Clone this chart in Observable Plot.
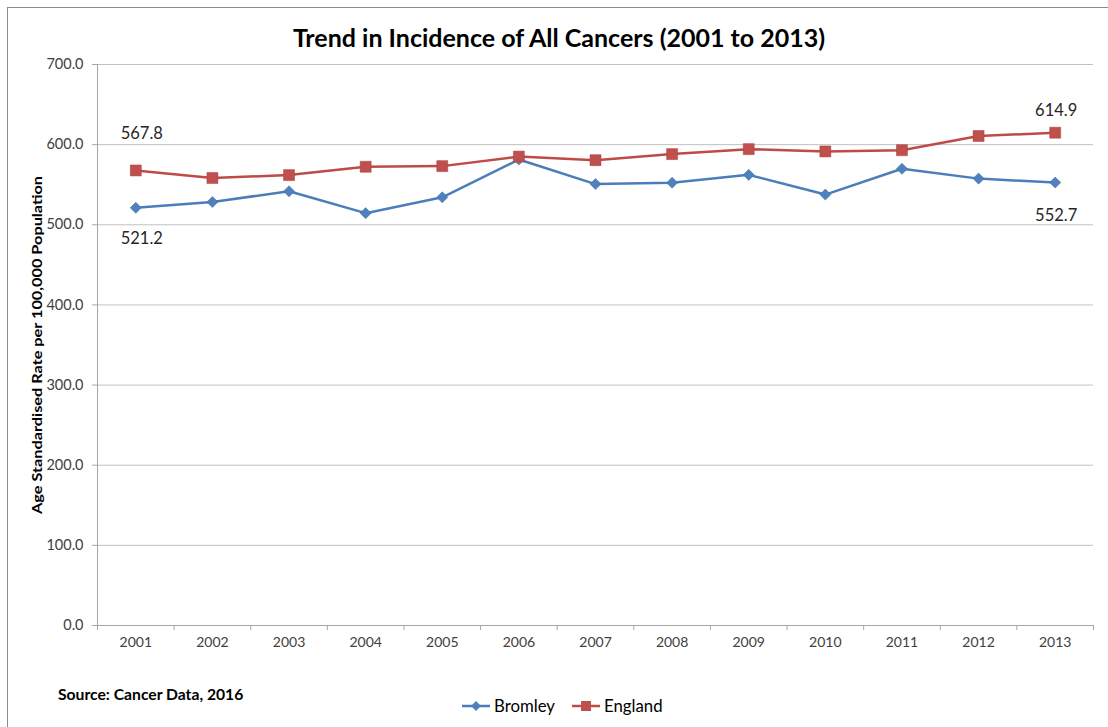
<!DOCTYPE html>
<html><head><meta charset="utf-8">
<script src="https://cdn.jsdelivr.net/npm/d3@7"></script>
<script src="https://cdn.jsdelivr.net/npm/@observablehq/plot@0.6"></script>
<style>
body{margin:0;background:#fff;font-family:Lato,"Open Sans",sans-serif;}
#wrap{position:relative;width:1108px;height:727px;overflow:hidden;background:#fff;}
#frame{position:absolute;left:7px;top:7px;width:1120px;height:740px;border-left:1.5px solid #8c8c8c;border-top:1.5px solid #8c8c8c;}
#title{position:absolute;top:22px;left:0;width:1118px;text-align:center;font-weight:bold;font-size:25px;color:#000;line-height:30px;}
#chart{position:absolute;top:56px;left:0;}
#source{position:absolute;left:58px;top:684px;font-weight:bold;font-size:15.7px;color:#000;line-height:20px;}
#legend{position:absolute;top:696px;left:461px;font-size:16.8px;display:flex;align-items:center;color:#000;line-height:20px;}
#legend .item{display:flex;align-items:center;margin-right:16px;}
#legend svg{margin-right:3px;}
</style>
</head>
<body>
<div id="wrap">
  <div id="frame"></div>
  <div id="title">Trend in Incidence of All Cancers (2001 to 2013)</div>
  <div id="chart"></div>
  <div id="source">Source: Cancer Data, 2016</div>
  <div id="legend"></div>
</div>
<script>
const years = [2001, 2002, 2003, 2004, 2005, 2006, 2007, 2008, 2009, 2010, 2011, 2012, 2013];
const bromley = [521.2, 528.5, 541.8, 514.5, 534.3, 581.4, 550.8, 552.5, 562.3, 537.7, 569.9, 557.6, 552.7];
const england = [567.8, 558.4, 562.0, 572.4, 573.2, 585.1, 580.6, 588.2, 594.4, 591.5, 593.1, 610.8, 614.9];
const yTicks = [0, 100, 200, 300, 400, 500, 600, 700];
const seriesNames = ["Bromley", "England"];
const seriesColors = {Bromley: "#4a7ebb", England: "#be4b48"};
const markerColors = {Bromley: "#4f81bd", England: "#c0504d"};
const yLabel = "Age Standardised Rate per 100,000 Population";

const rows = [];
years.forEach((yr, i) => {
  rows.push({year: yr, series: "Bromley", value: bromley[i]});
  rows.push({year: yr, series: "England", value: england[i]});
});
const bRows = rows.filter(d => d.series === "Bromley");
const eRows = rows.filter(d => d.series === "England");
const bounds = years.map(y => y - 0.5).concat([years[years.length - 1] + 0.5]);
const fmt = d => d.value.toFixed(1);

const chart = Plot.plot({
  width: 1108,
  height: 600,
  marginTop: 8,
  marginBottom: 31,
  marginLeft: 97,
  marginRight: 15,
  style: {fontFamily: "Lato, 'Open Sans', sans-serif", background: "transparent"},
  x: {domain: [bounds[0], bounds[bounds.length - 1]], label: null},
  y: {domain: [0, 700], label: null},
  marks: [
    Plot.gridY(yTicks, {stroke: "#c0c0c0", strokeOpacity: 1}),
    Plot.axisY({ticks: yTicks, tickSize: 5, tickPadding: 9, tickFormat: d => d.toFixed(1), stroke: "#a6a6a6", fill: "#404040", fontSize: 14.5, label: null}),
    Plot.axisX({ticks: bounds, tickSize: 5, tickFormat: () => "", stroke: "#a6a6a6", label: null}),
    Plot.axisX({ticks: years, tickSize: 0, tickPadding: 12, tickFormat: d => String(d), fill: "#404040", fontSize: 14, label: null}),
    Plot.ruleY([0], {stroke: "#a6a6a6"}),
    Plot.ruleX([bounds[0]], {stroke: "#a6a6a6"}),
    Plot.text([yLabel], {frameAnchor: "left", textAnchor: "middle", rotate: -90, dx: -60, fontWeight: "bold", fontSize: 13, fill: "#000"}),
    Plot.line(rows, {x: "year", y: "value", z: "series", stroke: d => seriesColors[d.series], strokeWidth: 2.5}),
    Plot.dot(bRows, {x: "year", y: "value", symbol: "diamond2", r: 5, fill: markerColors.Bromley, stroke: "#3a6aa5", strokeWidth: 0.5}),
    Plot.dot(eRows, {x: "year", y: "value", symbol: "square", r: 6.2, fill: markerColors.England, stroke: "#a9403d", strokeWidth: 0.5}),
    Plot.text([eRows[0]], {x: "year", y: "value", text: fmt, dx: 6, dy: -37, fontSize: 16.5, fill: "#262626"}),
    Plot.text([bRows[0]], {x: "year", y: "value", text: fmt, dx: 6, dy: 31, fontSize: 16.5, fill: "#262626"}),
    Plot.text([eRows[eRows.length - 1]], {x: "year", y: "value", text: fmt, dx: 1, dy: -22, fontSize: 16.5, fill: "#262626"}),
    Plot.text([bRows[bRows.length - 1]], {x: "year", y: "value", text: fmt, dx: 1, dy: 33, fontSize: 16.5, fill: "#262626"})
  ]
});
d3.select(chart).selectAll("text").filter(function() { return this.textContent === yLabel; })
  .attr("textLength", 338).attr("lengthAdjust", "spacingAndGlyphs");
document.getElementById("chart").appendChild(chart);

const legend = document.getElementById("legend");
seriesNames.forEach(name => {
  const item = document.createElement("div");
  item.className = "item";
  const sw = d3.create("svg").attr("width", 30).attr("height", 14);
  sw.append("line").attr("x1", 1).attr("x2", 29).attr("y1", 7).attr("y2", 7)
    .attr("stroke", seriesColors[name]).attr("stroke-width", 2.5);
  if (name === "Bromley") {
    sw.append("path").attr("d", "M15,2L20,7L15,12L10,7Z").attr("fill", markerColors[name]);
  } else {
    sw.append("rect").attr("x", 10).attr("y", 2).attr("width", 10).attr("height", 10).attr("fill", markerColors[name]);
  }
  item.appendChild(sw.node());
  const t = document.createElement("span");
  t.textContent = name;
  item.appendChild(t);
  legend.appendChild(item);
});
</script>
</body></html>
